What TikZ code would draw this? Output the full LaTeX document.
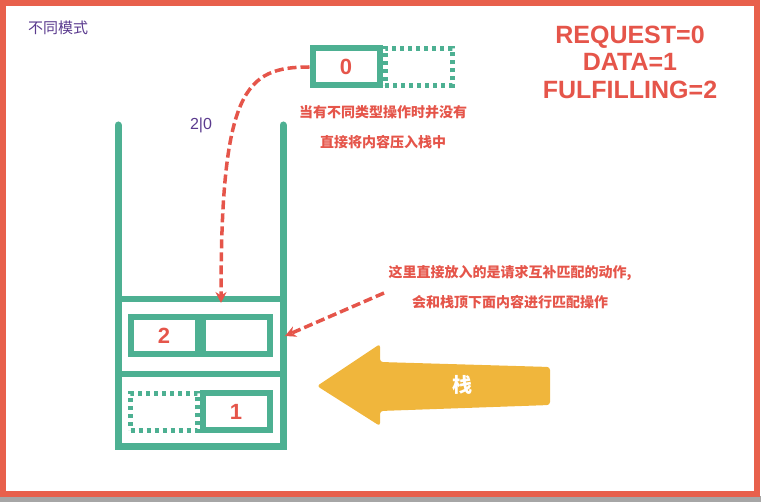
\documentclass[tikz,border=0pt]{standalone}
\usepackage{fontspec}
\setmainfont{Liberation Sans}
\newfontfamily\cjk{Noto Sans CJK SC}
\usepackage{tikz}
\usetikzlibrary{positioning}
\usetikzlibrary{shapes,arrows,calc,arrows.meta}

\definecolor{frame}{HTML}{E8604C}
\definecolor{teal}{HTML}{4DB092}
\definecolor{note}{HTML}{E5554A}
\definecolor{purple}{HTML}{5A3A8E}
\definecolor{gold}{HTML}{F0B63C}

\tikzset{
  cell/.style={draw=teal, line width=6pt, minimum width=67pt, minimum height=37pt, inner sep=0pt},
  ghost/.style={cell, dash pattern=on 4pt off 4pt, line width=5pt},
  num/.style={text=note, font=\bfseries\fontsize{22}{22}\selectfont},
  hint/.style={text=note, font=\cjk\bfseries\fontsize{14}{30}\selectfont, align=center},
  link/.style={draw=note, line width=3.5pt, dash pattern=on 9pt off 4pt, -{Stealth[length=11pt,width=11pt]}}
}

\begin{document}
\begin{tikzpicture}[x=1pt,y=-1pt]
  \useasboundingbox (0,0) rectangle (761,502);
  % Draw the frame
  \fill[gray!70] (0,496) rectangle (761,502);
  \draw[frame, line width=6pt] (3,3) rectangle (757,494);

  % Draw the stack
  \draw[teal, line width=7pt, line cap=round] (118,125) -- (118,447) -- (283,447) -- (283,125);
  \draw[teal, line width=6pt] (118,299) -- (283,299);
  \draw[teal, line width=6pt] (118,374) -- (283,374);

  % cells inside the stack
  \node[cell] (top) at (164,336) {};
  \node[cell] (topr) at (236,336) {};
  \node[ghost] (low) at (164,412) {};
  \node[cell] (lowr) at (236,412) {};
  \node[num] at (top) {2};
  \node[num] at (lowr) {1};

  % the node that comes in
  \node[cell] (req) at (346,67) {};
  \node[num] at (req) {0};
  \node[ghost, right=0pt of req] (reqd) {};

  % labels
  \node[text=purple, font=\cjk\fontsize{15}{15}\selectfont] (mode) at (58,28) {不同模式};
  \node[text=purple, font=\fontsize{16}{16}\selectfont] (state) at (201,125) {2|0};
  \node[hint] (push) at (383,127) {当有不同类型操作时并没有\\直接将内容压入栈中};
  \node[hint] (match) at (510,287) {这里直接放入的是请求互补匹配的动作,\\会和栈顶下面内容进行匹配操作};
  \node[text=note, font=\bfseries\fontsize{25}{27.5}\selectfont, align=center] (codes) at (630,62) {REQUEST=0\\DATA=1\\FULFILLING=2};

  % Draw the dashed arrows
  \coordinate (drop) at (221,303);
  \coordinate (side) at (384,293);
  \draw[link] (req.west) .. controls (245,67) and (221,90) .. (drop);
  \draw[link] (side) -- (top.east -| 285,322);

  % Draw the big arrow
  \fill[gold, rounded corners=3pt] (317,386) -- (380,344) -- (380,362) -- (550,367)
    -- (550,405) -- (380,411) -- (380,426) -- cycle;
  \node[text=white, font=\cjk\bfseries\fontsize{20}{20}\selectfont] (stack) at (462,385) {栈};
\end{tikzpicture}
\end{document}
